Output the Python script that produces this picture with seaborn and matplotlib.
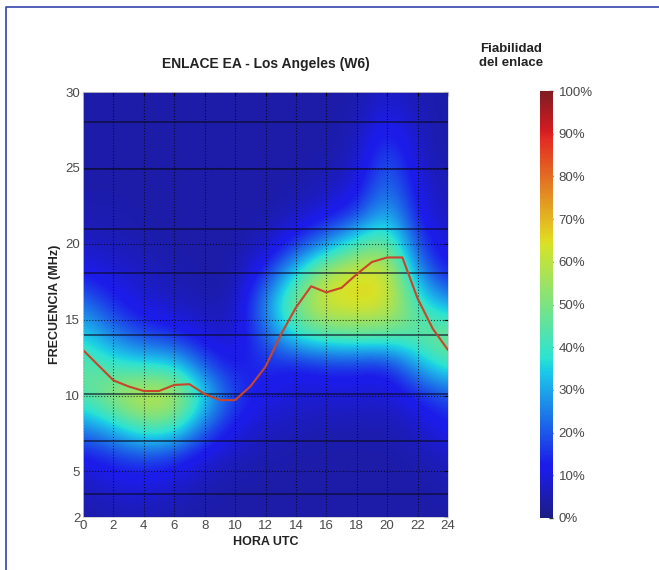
import numpy as np
import pandas as pd
import matplotlib
matplotlib.use("Agg")
import matplotlib.pyplot as plt
import seaborn as sns
from matplotlib.lines import Line2D
from matplotlib.colors import ListedColormap

# horas UTC y frecuencias (MHz) de la malla de fiabilidad
horas = [0, 2, 4, 6, 8, 10, 12, 14, 16, 18, 20, 22, 24]
frecs = [2, 4, 6, 8, 10, 12, 14, 16, 18, 20, 22, 24, 26, 28, 30]

# fiabilidad (%) por frecuencia (filas, de 2 a 30 MHz) y hora (columnas)
fiab_2 = [4, 5, 5, 4, 4, 4, 4, 4, 4, 4, 4, 4, 4]
fiab_4 = [6, 9, 10, 8, 5, 4, 4, 4, 4, 4, 4, 4, 5]
fiab_6 = [11, 15, 18, 15, 9, 6, 5, 4, 4, 4, 4, 5, 7]
fiab_8 = [26, 34, 46, 44, 22, 11, 7, 6, 5, 5, 5, 7, 13]
fiab_10 = [44, 56, 65, 62, 37, 17, 11, 9, 9, 9, 8, 13, 19]
fiab_12 = [46, 40, 37, 37, 19, 11, 15, 11, 14, 14, 12, 30, 42]
fiab_14 = [36, 25, 17, 14, 9, 7, 21, 40, 45, 47, 46, 46, 52]
fiab_16 = [25, 14, 9, 7, 5, 5, 27, 52, 66, 66, 65, 42, 29]
fiab_18 = [12, 9, 7, 5, 4, 4, 15, 37, 60, 66, 66, 27, 12]
fiab_20 = [7, 6, 5, 4, 4, 4, 6, 15, 26, 42, 50, 17, 8]
fiab_22 = [5, 5, 4, 4, 4, 4, 4, 6, 10, 15, 34, 11, 6]
fiab_24 = [4, 4, 4, 4, 4, 4, 4, 4, 6, 8, 26, 9, 5]
fiab_26 = [4, 4, 4, 4, 4, 4, 4, 4, 4, 6, 20, 7, 4]
fiab_28 = [4, 4, 4, 4, 4, 4, 4, 4, 4, 5, 13, 6, 4]
fiab_30 = [4, 4, 4, 4, 4, 4, 4, 4, 4, 4, 8, 5, 4]

# MUF (linea roja)
horas_muf = list(range(25))
muf = [13.0, 12.0, 11.0, 10.6, 10.3, 10.3, 10.7, 10.75, 10.1, 9.7, 9.7, 10.6,
       11.9, 14.0, 15.8, 17.2, 16.8, 17.1, 18.0, 18.8, 19.1, 19.1, 16.4, 14.4, 13.0]

# bandas de radioaficionado
bandas = [3.5, 7.0, 10.1, 14.0, 18.1, 21.0, 24.9, 28.0]

ticks_y = [2, 5, 10, 15, 20, 25, 30]
ticks_cb = [0, 10, 20, 30, 40, 50, 60, 70, 80, 90, 100]

sns.set_style("white")
plt.rcParams["font.family"] = ["Liberation Sans", "DejaVu Sans"]

Z = np.array([fiab_2, fiab_4, fiab_6, fiab_8, fiab_10, fiab_12, fiab_14, fiab_16,
              fiab_18, fiab_20, fiab_22, fiab_24, fiab_26, fiab_28, fiab_30], dtype=float)

# jet algo apagado, como en la imagen impresa
jet = plt.get_cmap("jet")(np.linspace(0, 1, 256))[:, :3]
gris = np.array([0.5, 0.5, 0.6])
cmap = ListedColormap(0.78 * jet + 0.22 * gris)

fig = plt.figure(figsize=(6.59, 5.70), dpi=100)
ax = fig.add_axes([83 / 659, 1 - 517 / 570, 365 / 659, 425 / 570])

dx = horas[1] - horas[0]
dy = frecs[1] - frecs[0]
im = ax.imshow(Z, origin="lower", aspect="auto", cmap=cmap, vmin=0, vmax=100,
               interpolation="bicubic",
               extent=(horas[0] - dx / 2, horas[-1] + dx / 2, frecs[0] - dy / 2, frecs[-1] + dy / 2))

for b in bandas:
    ax.axhline(b, color="#0a0a25", lw=1.1, alpha=0.75)

df_muf = pd.DataFrame({"hora": horas_muf, "muf": muf})
sns.lineplot(data=df_muf, x="hora", y="muf", ax=ax, color="#c8452c", lw=1.5)

ax.set_xlim(0, 24)
ax.set_ylim(2, 30)
ax.set_xticks(horas)
ax.set_yticks(ticks_y)
ax.grid(True, color="black", linestyle=":", lw=0.8, alpha=0.7)
ax.tick_params(direction="in", top=True, right=True, length=3, color="black",
               labelsize=9.5, labelcolor="#4a4a4a", pad=2)
for s in ax.spines.values():
    s.set_color("#cccccc")
    s.set_linewidth(0.6)

ax.set_xlabel("HORA UTC", fontsize=9, fontweight="bold", color="#222222", labelpad=3)
ax.set_ylabel("FRECUENCIA (MHz)", fontsize=9, fontweight="bold", color="#222222", labelpad=3)
ax.set_title("ENLACE EA - Los Angeles (W6)", fontsize=10, fontweight="bold", color="#222222", pad=17)

cax = fig.add_axes([540 / 659, 1 - 518 / 570, 13 / 659, 427 / 570])
cb = fig.colorbar(im, cax=cax, ticks=ticks_cb)
cb.ax.set_yticklabels([f"{t}%" for t in ticks_cb])
cb.outline.set_visible(False)
cb.ax.tick_params(direction="in", length=3, width=1, color="#333333",
                  labelsize=9.5, labelcolor="#4a4a4a", pad=4)
fig.text(511 / 659, 1 - 56 / 570, "Fiabilidad\ndel enlace", ha="center", va="center",
         fontsize=9.5, fontweight="bold", color="#222222", linespacing=1.3)

# marco azul de la figura
fig.add_artist(Line2D([6 / 659, 6 / 659, 1], [0, 1 - 7 / 570, 1 - 7 / 570],
                      transform=fig.transFigure, color="#3344aa", lw=1.2))

fig.savefig("out.png", dpi=100)
